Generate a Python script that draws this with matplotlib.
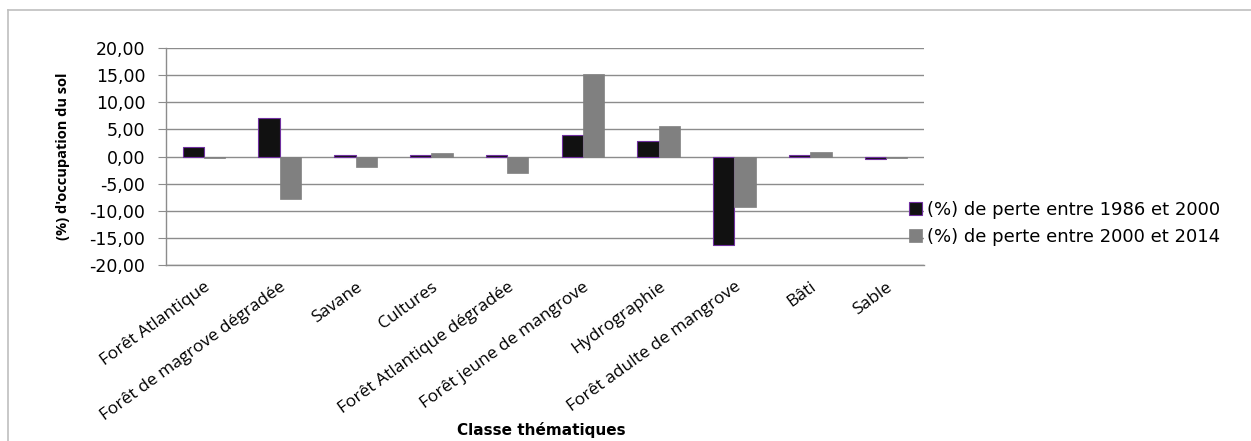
import numpy as np
import matplotlib
matplotlib.use("Agg")
import matplotlib.pyplot as plt
from matplotlib.lines import Line2D

# Land cover change by thematic class
categories = ["Forêt Atlantique", "Forêt de magrove dégradée", "Savane", "Cultures",
              "Forêt Atlantique dégradée", "Forêt jeune de mangrove", "Hydrographie",
              "Forêt adulte de mangrove", "Bâti", "Sable"]
loss_1986_2000 = [1.8, 7.1, 0.3, 0.3, 0.2, 3.9, 2.9, -16.3, 0.25, -0.4]
loss_2000_2014 = [-0.3, -7.8, -2.0, 0.6, -3.0, 15.3, 5.6, -9.3, 0.9, -0.2]
series_labels = ["(%) de perte entre 1986 et 2000", "(%) de perte entre 2000 et 2014"]
yticks = [-20, -15, -10, -5, 0, 5, 10, 15, 20]

fig = plt.figure(figsize=(12.51, 4.41), dpi=100)
ax = fig.add_axes([0.1327, 0.399, 0.6059, 0.492])

x = np.arange(len(categories))
w = 0.28
b1 = ax.bar(x - w / 2, loss_1986_2000, w, color="#111111", edgecolor="#7030a0",
            linewidth=0.8, zorder=3, label=series_labels[0])
b2 = ax.bar(x + w / 2, loss_2000_2014, w, color="#808080", edgecolor="#808080",
            linewidth=0.5, zorder=3, label=series_labels[1])

ax.set_xlim(-0.5, len(categories) - 0.5)
ax.set_ylim(-20, 20)
ax.set_yticks(yticks)
ax.set_yticklabels([f"{v:.2f}".replace(".", ",") for v in yticks],
                   fontsize=12.5, family="DejaVu Sans")
ax.yaxis.grid(True, color="#8c8c8c", linewidth=1.0, zorder=0)
ax.set_axisbelow(True)

for s in ["top", "right"]:
    ax.spines[s].set_visible(False)
for s in ["left", "bottom"]:
    ax.spines[s].set_color("#8c8c8c")
    ax.spines[s].set_linewidth(1.0)
ax.tick_params(axis="y", length=6, color="#8c8c8c", pad=9)

ax.set_xticks(x)
ax.set_xticklabels(categories, rotation=36, ha="right", rotation_mode="anchor",
                   fontsize=12.5, family="Open Sans")
ax.tick_params(axis="x", length=0, pad=10)

ax.set_ylabel("(%) d'occupation du sol", fontsize=10.5, fontweight="bold",
              family="Open Sans")
ax.yaxis.set_label_coords(-0.127, 0.5)
fig.text(541 / 1251, 1 - 430 / 441, "Classe thématiques", ha="center", va="center",
         fontsize=11, fontweight="bold", family="DejaVu Sans")

leg = fig.legend(handles=[b1, b2], loc="center left", bbox_to_anchor=(0.721, 0.494),
                 frameon=False, fontsize=13, handlelength=0.72, handleheight=0.72,
                 handletextpad=0.25, labelspacing=0.5, borderaxespad=0)
for t in leg.get_texts():
    t.set_family("DejaVu Sans")

# outer chart frame
fig.add_artist(Line2D([8 / 1251, 8 / 1251], [0, 1 - 10 / 441], transform=fig.transFigure,
                      color="#bfbfbf", linewidth=1.2))
fig.add_artist(Line2D([8 / 1251, 1], [1 - 10 / 441, 1 - 10 / 441], transform=fig.transFigure,
                      color="#bfbfbf", linewidth=1.2))

fig.savefig("out.png", dpi=100)
plt.close(fig)
